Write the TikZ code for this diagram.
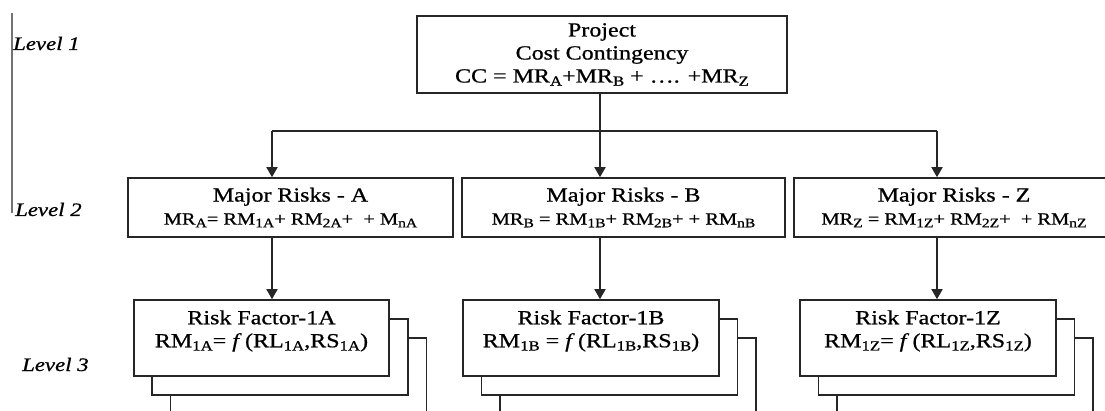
\documentclass[tikz,border=0pt]{standalone}
\usepackage{fontspec}
\setmainfont{Liberation Serif}[FakeStretch=1.2,FakeBold=0.8]
\usetikzlibrary{calc,arrows.meta}
\newcommand{\lo}[2][14]{\raisebox{-0.35ex}{\fontsize{#1}{#1}\selectfont #2}}

\begin{document}
\begin{tikzpicture}[x=1pt,y=-1pt,>={Triangle[length=10pt,width=11pt]},
	every node/.style={font=\fontsize{20}{23}\selectfont},
	box/.style={draw=black!85,line width=1.6pt,fill=white,inner sep=0pt,align=center},
	wire/.style={draw=black!85,line width=1.6pt},
	lvl/.style={font=\fontsize{19}{19}\selectfont\itshape,anchor=base west,inner sep=0pt}]
	\useasboundingbox (0,0) rectangle (1105,411);
	\clip (0,0) rectangle (1105,411);
	
	% levels
	\coordinate (axtop) at (12,13);
	\coordinate (axbot) at (12,213);
	\draw[black!55,line width=2.2pt] (axtop)--(axbot);
	\node[lvl] (lv1) at (13,50) {Level 1};
	\node[lvl] (lv2) at (15,216) {Level 2};
	\node[lvl] (lv3) at (22,371) {Level 3};
	
	% level 1
	\node[box,minimum width=370,minimum height=77] (cc) at (602,54.5)
	{Project\\Cost Contingency\\CC = MR\lo{A}+MR\lo{B} + …. +MR\lo{Z}};
	
	% level 2
	\node[box,minimum width=325,minimum height=59] (mrA) at (290.5,207.5)
	{Major Risks - A\\{\fontsize{17}{19}\selectfont MR\lo[13]{A}= RM\lo[13]{1A}+ RM\lo[13]{2A}+ \ + M\lo[13]{nA}}};
	\node[box,minimum width=323,minimum height=59] (mrB) at (623.5,207.5)
	{Major Risks - B\\{\fontsize{17}{19}\selectfont MR\lo[13]{B} = RM\lo[13]{1B}+ RM\lo[13]{2B}+ + RM\lo[13]{nB}}};
	\node[box,minimum width=320,minimum height=59] (mrZ) at (954,207.5)
	{Major Risks - Z\\{\fontsize{17}{19}\selectfont MR\lo[13]{Z} = RM\lo[13]{1Z}+ RM\lo[13]{2Z}+ \ + RM\lo[13]{nZ}}};
	
	% level 3, stacked from the back
	\node[box,minimum width=256,minimum height=76] (rfA3) at (298.5,376) {};
	\node[box,minimum width=256,minimum height=76] (rfA2) at (280,357) {};
	\node[box,minimum width=255,minimum height=76] (rfA) at (261.5,338) {};
	\node[box,minimum width=256,minimum height=76] (rfB3) at (628,376) {};
	\node[box,minimum width=256,minimum height=76] (rfB2) at (609.5,357) {};
	\node[box,minimum width=256,minimum height=76] (rfB) at (591,338) {};
	\node[box,minimum width=256,minimum height=76] (rfZ3) at (965,376) {};
	\node[box,minimum width=256,minimum height=76] (rfZ2) at (946.5,357) {};
	\node[box,minimum width=256,minimum height=76] (rfZ) at (928,338) {};
	
	\node[align=center,anchor=north,inner sep=0pt] (tA) at ($(rfA.north)+(0,11)$)
	{Risk Factor-1A\\RM\lo{1A}= \textit{f}\,(RL\lo{1A},RS\lo{1A})};
	\node[align=center,anchor=north,inner sep=0pt] (tB) at ($(rfB.north)+(0,11)$)
	{Risk Factor-1B\\RM\lo{1B} = \textit{f}\,(RL\lo{1B},RS\lo{1B})};
	\node[align=center,anchor=north,inner sep=0pt] (tZ) at ($(rfZ.north)+(0,11)$)
	{Risk Factor-1Z\\RM\lo{1Z}= \textit{f}\,(RL\lo{1Z},RS\lo{1Z})};
	
	% connectors
	\coordinate (busA) at (272,131);
	\coordinate (busB) at (600,131);
	\coordinate (busZ) at (937,131);
	\draw[wire] (cc.south -| busB)--(busB);
	\draw[wire] (busA)--(busZ);
	\draw[wire,->] (busA)--(mrA.north -| busA);
	\draw[wire,->] (busB)--(mrB.north -| busB);
	\draw[wire,->] (busZ)--(mrZ.north -| busZ);
	\draw[wire,->] (mrA.south -| busA)--(rfA.north -| busA);
	\draw[wire,->] (mrB.south -| busB)--(rfB.north -| busB);
	\draw[wire,->] (mrZ.south -| busZ)--(rfZ.north -| busZ);
\end{tikzpicture}
\end{document}
